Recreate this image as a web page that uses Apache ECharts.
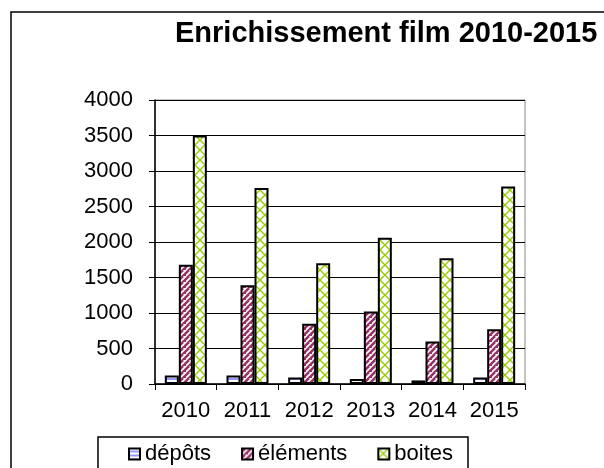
<!DOCTYPE html>
<html>
<head>
<meta charset="utf-8">
<script src="https://cdn.jsdelivr.net/npm/echarts@6/dist/echarts.min.js"></script>
<style>html,body{margin:0;padding:0;background:#fff}#c{width:604px;height:468px}</style>
</head>
<body>
<div id="c"></div>
<script>
var categories = ['2010', '2011', '2012', '2013', '2014', '2015'];
var depots = [120, 120, 90, 70, 50, 90];
var elements = [1680, 1390, 850, 1020, 600, 770];
var boites = [3500, 2760, 1700, 2060, 1770, 2780];
var seriesNames = ['dépôts', 'éléments', 'boites'];
var titleText = 'Enrichissement film 2010-2015';

function makePattern(kind) {
  var c = document.createElement('canvas');
  var ctx = c.getContext('2d');
  if (kind === 'h') {
    c.width = 4; c.height = 4;
    ctx.fillStyle = '#fff'; ctx.fillRect(0, 0, 4, 4);
    ctx.fillStyle = '#9999ff'; ctx.fillRect(0, 2, 4, 2);
  } else if (kind === 'd') {
    c.width = 6; c.height = 6;
    ctx.fillStyle = '#fff'; ctx.fillRect(0, 0, 6, 6);
    ctx.strokeStyle = '#993366'; ctx.lineWidth = 2.6;
    ctx.beginPath();
    ctx.moveTo(-3, 6); ctx.lineTo(3, 0);
    ctx.moveTo(0, 9); ctx.lineTo(9, 0);
    ctx.moveTo(3, 9); ctx.lineTo(9, 3);
    ctx.stroke();
  } else {
    c.width = 10; c.height = 10;
    ctx.fillStyle = '#fff'; ctx.fillRect(0, 0, 10, 10);
    ctx.strokeStyle = '#99cc00'; ctx.lineWidth = 1.4;
    ctx.beginPath();
    ctx.moveTo(0, 0); ctx.lineTo(10, 10);
    ctx.moveTo(10, 0); ctx.lineTo(0, 10);
    ctx.stroke();
  }
  return { image: c, repeat: 'repeat' };
}

var FONT = '"Liberation Sans", Arial, sans-serif';
var chart = echarts.init(document.getElementById('c'), null, { renderer: 'canvas' });
var patterns = [makePattern('h'), makePattern('d'), makePattern('x')];
var dataSets = [depots, elements, boites];

chart.setOption({
  animation: false,
  backgroundColor: '#fff',
  title: {
    text: titleText, left: 170, top: 14,
    textStyle: { fontFamily: FONT, fontSize: 29, fontWeight: 'bold', color: '#000' }
  },
  graphic: [
    { type: 'rect', z: 0, silent: true, shape: { x: 11, y: 12, width: 700, height: 600 },
      style: { fill: 'none', stroke: '#000', lineWidth: 1.5 } },
    { type: 'rect', z: 0, silent: true, shape: { x: 98, y: 437, width: 370, height: 60 },
      style: { fill: '#fff', stroke: '#000', lineWidth: 1.5 } }
  ],
  legend: {
    z: 10, left: 128, top: 443, padding: 0, itemWidth: 11, itemHeight: 11, itemGap: 30,
    icon: 'rect',
    textStyle: { fontFamily: FONT, fontSize: 22, color: '#000' },
    itemStyle: { borderColor: '#000', borderWidth: 2 },
    data: seriesNames
  },
  grid: {
    left: 155, right: 79, top: 100, bottom: 84,
    show: true, borderColor: '#888', borderWidth: 1, backgroundColor: 'transparent'
  },
  xAxis: {
    type: 'category', data: categories,
    axisLine: { lineStyle: { color: '#000', width: 1.5 } },
    axisTick: { show: true, length: 6, lineStyle: { color: '#000', width: 1 } },
    axisLabel: { fontFamily: FONT, fontSize: 22, color: '#000', margin: 16, interval: 0 }
  },
  yAxis: {
    type: 'value', min: 0, max: 4000, interval: 500,
    axisLine: { show: true, lineStyle: { color: '#000', width: 1.5 } },
    axisTick: { show: true, length: 6, lineStyle: { color: '#000', width: 1 } },
    axisLabel: { fontFamily: FONT, fontSize: 22, color: '#000', margin: 22,
      formatter: function (v) { return String(v); } },
    splitLine: { lineStyle: { color: '#000', width: 1 } }
  },
  series: seriesNames.map(function (n, i) {
    return {
      name: n, type: 'bar', data: dataSets[i],
      barWidth: 14, barGap: '0%',
      itemStyle: { color: patterns[i], borderColor: '#000', borderWidth: 2 }
    };
  })
});
</script>
</body>
</html>
